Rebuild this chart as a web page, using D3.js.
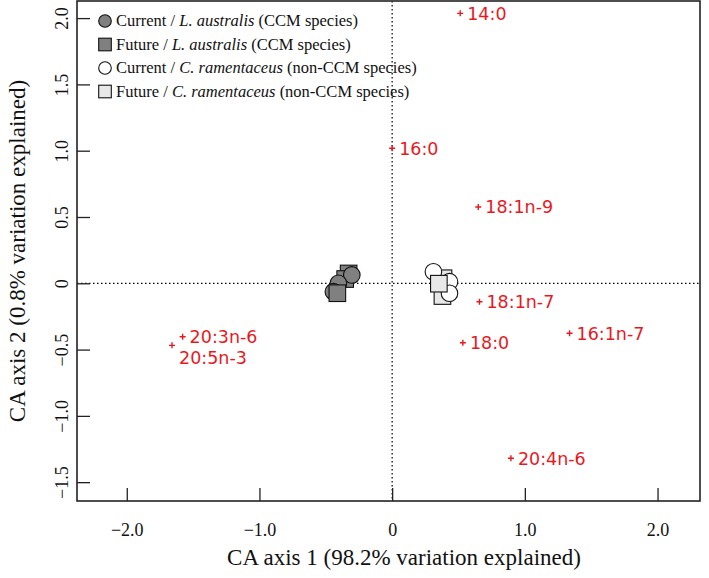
<!DOCTYPE html>
<html>
<head>
<meta charset="utf-8">
<script src="https://cdn.jsdelivr.net/npm/d3@7"></script>
<style>
  body { margin: 0; background: #fff; }
  svg text { font-family: "Liberation Serif", "Times New Roman", serif; }
  .fa-label { font-family: "DejaVu Sans", Verdana, sans-serif !important; }
</style>
</head>
<body>
<svg id="chart" width="709" height="578"></svg>
<script>
// fatty acid scores (red crosses)
const fattyAcids = ["14:0", "16:0", "18:1n-9", "18:1n-7", "16:1n-7", "18:0", "20:3n-6", "20:5n-3", "20:4n-6"];
const faAxis1 = [0.513, 0.0, 0.649, 0.658, 1.337, 0.533, -1.579, -1.659, 0.895];
const faAxis2 = [2.036, 1.018, 0.575, -0.139, -0.377, -0.448, -0.403, -0.468, -1.32];

// sample scores, in the order they were plotted
const sampleGroup = ["Lfut", "Lfut", "Lcur", "Lcur", "Lcur", "Lfut",
                     "Cfut", "Ccur", "Ccur", "Cfut", "Ccur", "Cfut"];
const sampleAxis1 = [-0.328, -0.354, -0.304, -0.405, -0.443, -0.413,
                      0.387, 0.432, 0.311, 0.379, 0.432, 0.352];
const sampleAxis2 = [0.074, 0.032, 0.063, 0.0, -0.063, -0.075,
                     0.038, 0.012, 0.087, -0.096, -0.075, -0.003];

// legend
const legendKeys = ["Lcur", "Lfut", "Ccur", "Cfut"];
const legendTime = ["Current", "Future", "Current", "Future"];
const legendSpecies = ["L. australis", "L. australis", "C. ramentaceus", "C. ramentaceus"];
const legendNote = ["(CCM species)", "(CCM species)", "(non-CCM species)", "(non-CCM species)"];

// axes
const xTicks = [-2, -1, 0, 1, 2];
const yTicks = [-1.5, -1, -0.5, 0, 0.5, 1, 1.5, 2];
const xTitle = "CA axis 1 (98.2% variation explained)";
const yTitle = "CA axis 2 (0.8% variation explained)";

const svg = d3.select("#chart");
const plotL = 77, plotR = 700, plotT = 1, plotB = 501;

const x = d3.scaleLinear().domain([-2.375, 2.32]).range([plotL, plotR]);
const y = d3.scaleLinear().domain([-1.642, 2.129]).range([plotB, plotT]);

const fill = d3.scaleOrdinal().domain(legendKeys).range(["#808080", "#808080", "#ffffff", "#e8e8e8"]);
const shape = d3.scaleOrdinal().domain(legendKeys).range(["circle", "square", "circle", "square"]);

const fmt = v => v === 0 ? "0" : d3.format(".1f")(v).replace("-", "\u2212");

// dotted zero lines
svg.append("line")
  .attr("x1", x(0)).attr("x2", x(0)).attr("y1", plotT).attr("y2", plotB)
  .attr("stroke", "#000").attr("stroke-width", 1.2).attr("stroke-dasharray", "1.5,2.5");
svg.append("line")
  .attr("x1", plotL).attr("x2", plotR).attr("y1", y(0)).attr("y2", y(0))
  .attr("stroke", "#000").attr("stroke-width", 1.2).attr("stroke-dasharray", "1.5,2.5");

// axes with inward ticks
const xAxis = svg.append("g")
  .attr("transform", `translate(0,${plotB})`)
  .call(d3.axisBottom(x).tickValues(xTicks).tickFormat(fmt).tickSize(-13).tickPadding(22));
const yAxis = svg.append("g")
  .attr("transform", `translate(${plotL},0)`)
  .call(d3.axisLeft(y).tickValues(yTicks).tickFormat(fmt).tickSize(-13));

[xAxis, yAxis].forEach(g => {
  g.select(".domain").remove();
  g.selectAll(".tick line").attr("stroke", "#222").attr("stroke-width", 1.3);
  g.selectAll(".tick text").attr("fill", "#111").style("font-size", "18px")
    .style("font-family", '"Liberation Serif", "Times New Roman", serif');
});
yAxis.selectAll(".tick text")
  .attr("x", null).attr("dy", null)
  .attr("text-anchor", "middle")
  .attr("transform", "translate(-9,0) rotate(-90)");

// frame
svg.append("rect")
  .attr("x", plotL).attr("y", plotT).attr("width", plotR - plotL).attr("height", plotB - plotT)
  .attr("fill", "none").attr("stroke", "#222").attr("stroke-width", 1.6);

// axis titles
svg.append("text")
  .attr("x", 404).attr("y", 565)
  .attr("text-anchor", "middle").style("font-size", "23px").attr("fill", "#111")
  .text(xTitle);
svg.append("text")
  .attr("transform", `translate(25,${(plotT + plotB) / 2}) rotate(-90)`)
  .attr("text-anchor", "middle").style("font-size", "23px").attr("fill", "#111")
  .text(yTitle);

// fatty acid crosses and labels
const labelShift = {"20:5n-3": 12};
const fa = svg.append("g").selectAll("g")
  .data(fattyAcids.map((name, i) => ({name, a1: faAxis1[i], a2: faAxis2[i]})))
  .join("g")
  .attr("transform", d => `translate(${x(d.a1)},${y(d.a2)})`);
fa.append("path")
  .attr("d", "M-3,0H3M0,-3V3")
  .attr("stroke", "#e8191e").attr("stroke-width", 1.4);
fa.append("text")
  .attr("class", "fa-label")
  .attr("x", 7).attr("y", d => labelShift[d.name] || 0)
  .attr("dy", "0.36em")
  .style("font-size", "17.5px").attr("fill", "#e8191e")
  .text(d => d.name);

// sample points
function drawSymbol(sel, r) {
  sel.each(function(d) {
    const g = d3.select(this);
    if (shape(d.group) === "circle") {
      g.append("circle").attr("r", r);
    } else {
      g.append("rect").attr("x", -r).attr("y", -r).attr("width", 2 * r).attr("height", 2 * r);
    }
    g.selectAll("circle, rect")
      .attr("fill", fill(d.group)).attr("stroke", "#111").attr("stroke-width", 1.1);
  });
}

svg.append("g").selectAll("g")
  .data(sampleGroup.map((group, i) => ({group, a1: sampleAxis1[i], a2: sampleAxis2[i]})))
  .join("g")
  .attr("transform", d => `translate(${x(d.a1)},${y(d.a2)})`)
  .call(drawSymbol, 8.3);

// legend
const leg = svg.append("g").selectAll("g")
  .data(legendKeys.map((group, i) => ({group, i})))
  .join("g")
  .attr("transform", d => `translate(105,${21 + d.i * 23.5})`);
leg.call(drawSymbol, 6.3);
const lt = leg.append("text")
  .attr("x", 11).attr("dy", "0.33em")
  .style("font-size", "16.5px").attr("fill", "#111");
lt.append("tspan").text(d => legendTime[d.i] + " / ");
lt.append("tspan").style("font-style", "italic").text(d => legendSpecies[d.i]);
lt.append("tspan").text(d => " " + legendNote[d.i]);
</script>
</body>
</html>
